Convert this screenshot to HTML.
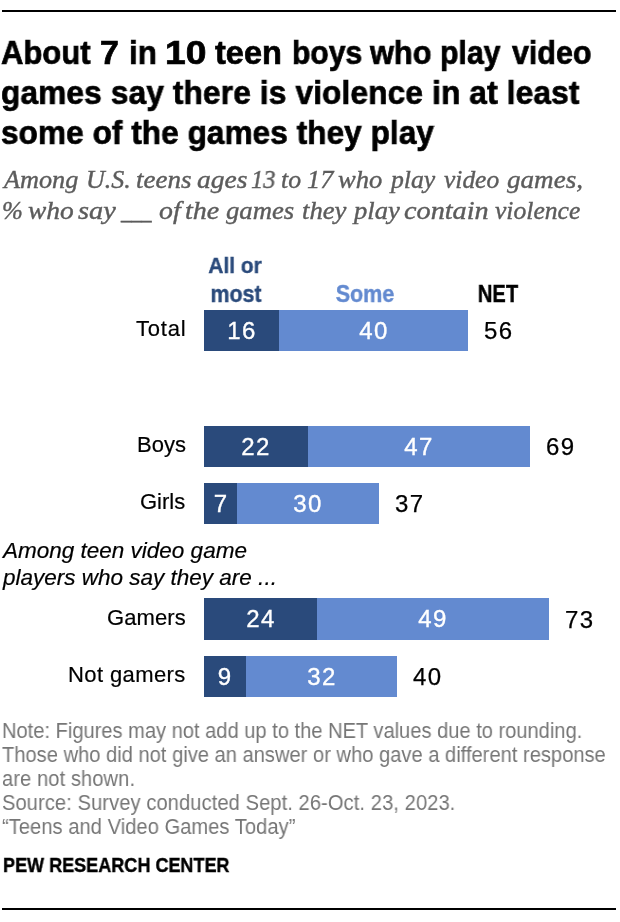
<!DOCTYPE html>
<html><head><meta charset="utf-8">
<style>
html,body{margin:0;padding:0;background:#fff;}
body{width:620px;height:922px;position:relative;overflow:hidden;}
.t{position:absolute;white-space:nowrap;font-family:"Liberation Sans",sans-serif;color:#000;will-change:transform;}
.title{font-weight:bold;-webkit-text-stroke:0.7px #000;}
.sub{font-family:"Liberation Serif",serif;font-style:italic;color:#5c5c5c;-webkit-text-stroke:0.4px #5c5c5c;}
.hd1{font-weight:bold;color:#2a4a7b;-webkit-text-stroke:0.4px #2a4a7b;}
.hd2{font-weight:bold;color:#638ad0;-webkit-text-stroke:0.4px #638ad0;}
.hd3{font-weight:bold;color:#000;-webkit-text-stroke:0.4px #000;}
.lab{color:#000;-webkit-text-stroke:0.2px #000;}
.val{color:#fff;-webkit-text-stroke:0.35px #fff;}
.net{color:#000;-webkit-text-stroke:0.25px #000;}
.grp{font-style:italic;color:#000;-webkit-text-stroke:0.2px #000;}
.note{color:#767676;}
.pew{font-weight:bold;color:#000;-webkit-text-stroke:0.4px #000;}
.bar{position:absolute;}
</style></head><body>
<div class="bar" style="left:2px;top:10px;width:614px;height:2px;background:#000"></div>
<div class="bar" style="left:2px;top:908px;width:614px;height:2px;background:#000"></div>
<div id="t1_0" class="t title" style="left:1.24px;top:37.39px;font-size:32.5px;line-height:32.5px;transform:scaleX(0.9544);transform-origin:left top;">About</div>
<div id="t1_1" class="t title" style="left:100.12px;top:37.39px;font-size:32.5px;line-height:32.5px;transform:scaleX(1.0429);transform-origin:left top;">7</div>
<div id="t1_2" class="t title" style="left:128.9px;top:37.39px;font-size:32.5px;line-height:32.5px;transform:scaleX(0.968);transform-origin:left top;">in</div>
<div id="t1_3" class="t title" style="left:165.24px;top:37.39px;font-size:32.5px;line-height:32.5px;transform:scaleX(1.1456);transform-origin:left top;">10</div>
<div id="t1_4" class="t title" style="left:215.43px;top:37.39px;font-size:32.5px;line-height:32.5px;transform:scaleX(0.9994);transform-origin:left top;">teen</div>
<div id="t1_5" class="t title" style="left:291.94px;top:37.39px;font-size:32.5px;line-height:32.5px;transform:scaleX(0.9255);transform-origin:left top;">boys</div>
<div id="t1_6" class="t title" style="left:370.34px;top:37.39px;font-size:32.5px;line-height:32.5px;transform:scaleX(0.9452);transform-origin:left top;">who</div>
<div id="t1_7" class="t title" style="left:440.35px;top:37.39px;font-size:32.5px;line-height:32.5px;transform:scaleX(0.9291);transform-origin:left top;">play</div>
<div id="t1_8" class="t title" style="left:512.25px;top:37.39px;font-size:32.5px;line-height:32.5px;transform:scaleX(0.9367);transform-origin:left top;">video</div>
<div class="t title" style="left:1px;top:77.29px;font-size:32.5px;line-height:32.5px;transform:scaleX(0.972);transform-origin:left top;letter-spacing:0.16px;">games say there is violence in at least</div>
<div class="t title" style="left:1px;top:117.19px;font-size:32.5px;line-height:32.5px;transform:scaleX(0.972);transform-origin:left top;letter-spacing:0.04px;">some of the games they play</div>
<div id="s1_0" class="t sub" style="left:4.1px;top:166.56px;font-size:25px;line-height:25px;transform:scaleX(1.0486);transform-origin:left top;">Among</div>
<div id="s1_1" class="t sub" style="left:85.89px;top:166.56px;font-size:25px;line-height:25px;transform:scaleX(1.0391);transform-origin:left top;">U.S.</div>
<div id="s1_2" class="t sub" style="left:135.92px;top:166.56px;font-size:25px;line-height:25px;transform:scaleX(1.08);transform-origin:left top;">teens</div>
<div id="s1_3" class="t sub" style="left:196.94px;top:166.56px;font-size:25px;line-height:25px;transform:scaleX(1.1004);transform-origin:left top;">ages</div>
<div id="s1_4" class="t sub" style="left:251.01px;top:166.56px;font-size:25px;line-height:25px;transform:scaleX(0.9793);transform-origin:left top;">13</div>
<div id="s1_5" class="t sub" style="left:280.97px;top:166.56px;font-size:25px;line-height:25px;transform:scaleX(1.0293);transform-origin:left top;">to</div>
<div id="s1_6" class="t sub" style="left:307.43px;top:166.56px;font-size:25px;line-height:25px;transform:scaleX(1.0505);transform-origin:left top;">17</div>
<div id="s1_7" class="t sub" style="left:337.99px;top:166.56px;font-size:25px;line-height:25px;transform:scaleX(1.0612);transform-origin:left top;">who</div>
<div id="s1_8" class="t sub" style="left:390.54px;top:166.56px;font-size:25px;line-height:25px;transform:scaleX(1.028);transform-origin:left top;">play</div>
<div id="s1_9" class="t sub" style="left:443.5px;top:166.56px;font-size:25px;line-height:25px;transform:scaleX(1.0185);transform-origin:left top;">video</div>
<div id="s1_10" class="t sub" style="left:506.52px;top:166.56px;font-size:25px;line-height:25px;transform:scaleX(1.0834);transform-origin:left top;">games,</div>
<div id="s2_0" class="t sub" style="left:1.99px;top:198.06px;font-size:25px;line-height:25px;transform:scaleX(0.9879);transform-origin:left top;">%</div>
<div id="s2_1" class="t sub" style="left:27.95px;top:198.06px;font-size:25px;line-height:25px;transform:scaleX(1.0976);transform-origin:left top;">who</div>
<div id="s2_2" class="t sub" style="left:78.48px;top:198.06px;font-size:25px;line-height:25px;transform:scaleX(1.1331);transform-origin:left top;">say</div>
<div id="s2_3" class="t sub" style="left:121.24px;top:198.06px;font-size:25px;line-height:25px;transform:scaleX(0.8151);transform-origin:left top;">___</div>
<div id="s2_4" class="t sub" style="left:159.14px;top:198.06px;font-size:25px;line-height:25px;transform:scaleX(1.1125);transform-origin:left top;">of</div>
<div id="s2_5" class="t sub" style="left:185.49px;top:198.06px;font-size:25px;line-height:25px;transform:scaleX(1.1211);transform-origin:left top;">the</div>
<div id="s2_6" class="t sub" style="left:225.98px;top:198.06px;font-size:25px;line-height:25px;transform:scaleX(1.0677);transform-origin:left top;">games</div>
<div id="s2_7" class="t sub" style="left:301.89px;top:198.06px;font-size:25px;line-height:25px;transform:scaleX(1.0673);transform-origin:left top;">they</div>
<div id="s2_8" class="t sub" style="left:354.11px;top:198.06px;font-size:25px;line-height:25px;transform:scaleX(1.0613);transform-origin:left top;">play</div>
<div id="s2_9" class="t sub" style="left:403.98px;top:198.06px;font-size:25px;line-height:25px;transform:scaleX(1.1285);transform-origin:left top;">contain</div>
<div id="s2_10" class="t sub" style="left:495.0px;top:198.06px;font-size:25px;line-height:25px;transform:scaleX(1.0241);transform-origin:left top;">violence</div>
<div class="t hd1" style="left:-64.80000000000001px;width:600px;text-align:center;top:254.95px;font-size:22.5px;line-height:22.5px;transform:scaleX(0.93);transform-origin:center top;">All or</div>
<div class="t hd1" style="left:-64.0px;width:600px;text-align:center;top:283.33px;font-size:23.0px;line-height:23.0px;transform:scaleX(0.93);transform-origin:center top;">most</div>
<div class="t hd2" style="left:64.69999999999999px;width:600px;text-align:center;top:283.33px;font-size:23.0px;line-height:23.0px;transform:scaleX(0.935);transform-origin:center top;">Some</div>
<div class="t hd3" style="left:197.7px;width:600px;text-align:center;top:283.33px;font-size:23.0px;line-height:23.0px;transform:scaleX(0.88);transform-origin:center top;">NET</div>
<div class="bar" style="left:204px;top:310px;width:75px;height:41px;background:#2a4a7b"></div>
<div class="bar" style="left:279px;top:310px;width:189px;height:41px;background:#638ad0"></div>
<div class="t lab" style="right:433.7px;top:317.98px;font-size:22px;line-height:22px;letter-spacing:0.8px;">Total</div>
<div class="t val" style="left:-58.19999999999999px;width:600px;text-align:center;top:318.68px;font-size:24px;line-height:24px;letter-spacing:1.4px;">16</div>
<div class="t val" style="left:73.80000000000001px;width:600px;text-align:center;top:318.68px;font-size:24px;line-height:24px;letter-spacing:1.4px;">40</div>
<div class="t net" style="left:484px;top:319.08px;font-size:24px;line-height:24px;letter-spacing:1.4px;">56</div>
<div class="bar" style="left:204px;top:426px;width:104px;height:41px;background:#2a4a7b"></div>
<div class="bar" style="left:308px;top:426px;width:222px;height:41px;background:#638ad0"></div>
<div class="t lab" style="right:434.5px;top:434.18px;font-size:22px;line-height:22px;">Boys</div>
<div class="t val" style="left:-43.69999999999999px;width:600px;text-align:center;top:434.68px;font-size:24px;line-height:24px;letter-spacing:1.4px;">22</div>
<div class="t val" style="left:119.30000000000001px;width:600px;text-align:center;top:434.68px;font-size:24px;line-height:24px;letter-spacing:1.4px;">47</div>
<div class="t net" style="left:546px;top:435.08px;font-size:24px;line-height:24px;letter-spacing:1.4px;">69</div>
<div class="bar" style="left:204px;top:483px;width:33px;height:41px;background:#2a4a7b"></div>
<div class="bar" style="left:237px;top:483px;width:142px;height:41px;background:#638ad0"></div>
<div class="t lab" style="right:434.5px;top:490.98px;font-size:22px;line-height:22px;">Girls</div>
<div class="t val" style="left:-79.19999999999999px;width:600px;text-align:center;top:491.68px;font-size:24px;line-height:24px;letter-spacing:1.4px;">7</div>
<div class="t val" style="left:8.300000000000011px;width:600px;text-align:center;top:491.68px;font-size:24px;line-height:24px;letter-spacing:1.4px;">30</div>
<div class="t net" style="left:395px;top:492.08px;font-size:24px;line-height:24px;letter-spacing:1.4px;">37</div>
<div class="bar" style="left:204px;top:598px;width:113px;height:42px;background:#2a4a7b"></div>
<div class="bar" style="left:317px;top:598px;width:232px;height:42px;background:#638ad0"></div>
<div class="t lab" style="right:434.4px;top:607.48px;font-size:22px;line-height:22px;letter-spacing:0.1px;">Gamers</div>
<div class="t val" style="left:-39.19999999999999px;width:600px;text-align:center;top:607.18px;font-size:24px;line-height:24px;letter-spacing:1.4px;">24</div>
<div class="t val" style="left:133.3px;width:600px;text-align:center;top:607.18px;font-size:24px;line-height:24px;letter-spacing:1.4px;">49</div>
<div class="t net" style="left:565px;top:607.58px;font-size:24px;line-height:24px;letter-spacing:1.4px;">73</div>
<div class="bar" style="left:204px;top:656px;width:42px;height:41px;background:#2a4a7b"></div>
<div class="bar" style="left:246px;top:656px;width:151px;height:41px;background:#638ad0"></div>
<div class="t lab" style="right:434.1px;top:663.98px;font-size:22px;line-height:22px;letter-spacing:0.4px;">Not gamers</div>
<div class="t val" style="left:-74.69999999999999px;width:600px;text-align:center;top:664.68px;font-size:24px;line-height:24px;letter-spacing:1.4px;">9</div>
<div class="t val" style="left:21.80000000000001px;width:600px;text-align:center;top:664.68px;font-size:24px;line-height:24px;letter-spacing:1.4px;">32</div>
<div class="t net" style="left:413px;top:665.08px;font-size:24px;line-height:24px;letter-spacing:1.4px;">40</div>
<div class="t grp" style="left:2.5px;top:539.65px;font-size:22.5px;line-height:22.5px;">Among teen video game</div>
<div class="t grp" style="left:2.5px;top:567.15px;font-size:22.5px;line-height:22.5px;">players who say they are ...</div>
<div class="t note" style="left:1.5px;top:719.85px;font-size:21.2px;line-height:21.2px;transform:scaleX(0.948);transform-origin:left top;">Note: Figures may not add up to the NET values due to rounding.</div>
<div class="t note" style="left:1.5px;top:743.85px;font-size:21.2px;line-height:21.2px;transform:scaleX(0.948);transform-origin:left top;letter-spacing:0.02px;">Those who did not give an answer or who gave a different response</div>
<div class="t note" style="left:1.5px;top:767.85px;font-size:21.2px;line-height:21.2px;transform:scaleX(0.948);transform-origin:left top;letter-spacing:0.1px;">are not shown.</div>
<div class="t note" style="left:1.5px;top:791.85px;font-size:21.2px;line-height:21.2px;transform:scaleX(0.948);transform-origin:left top;letter-spacing:0.1px;">Source: Survey conducted Sept. 26-Oct. 23, 2023.</div>
<div class="t note" style="left:1.5px;top:815.85px;font-size:21.2px;line-height:21.2px;transform:scaleX(0.948);transform-origin:left top;letter-spacing:0.06px;">“Teens and Video Games Today”</div>
<div class="t pew" style="left:2.5px;top:854.65px;font-size:20.5px;line-height:20.5px;transform:scaleX(0.88);transform-origin:left top;">PEW RESEARCH CENTER</div>
</body></html>
